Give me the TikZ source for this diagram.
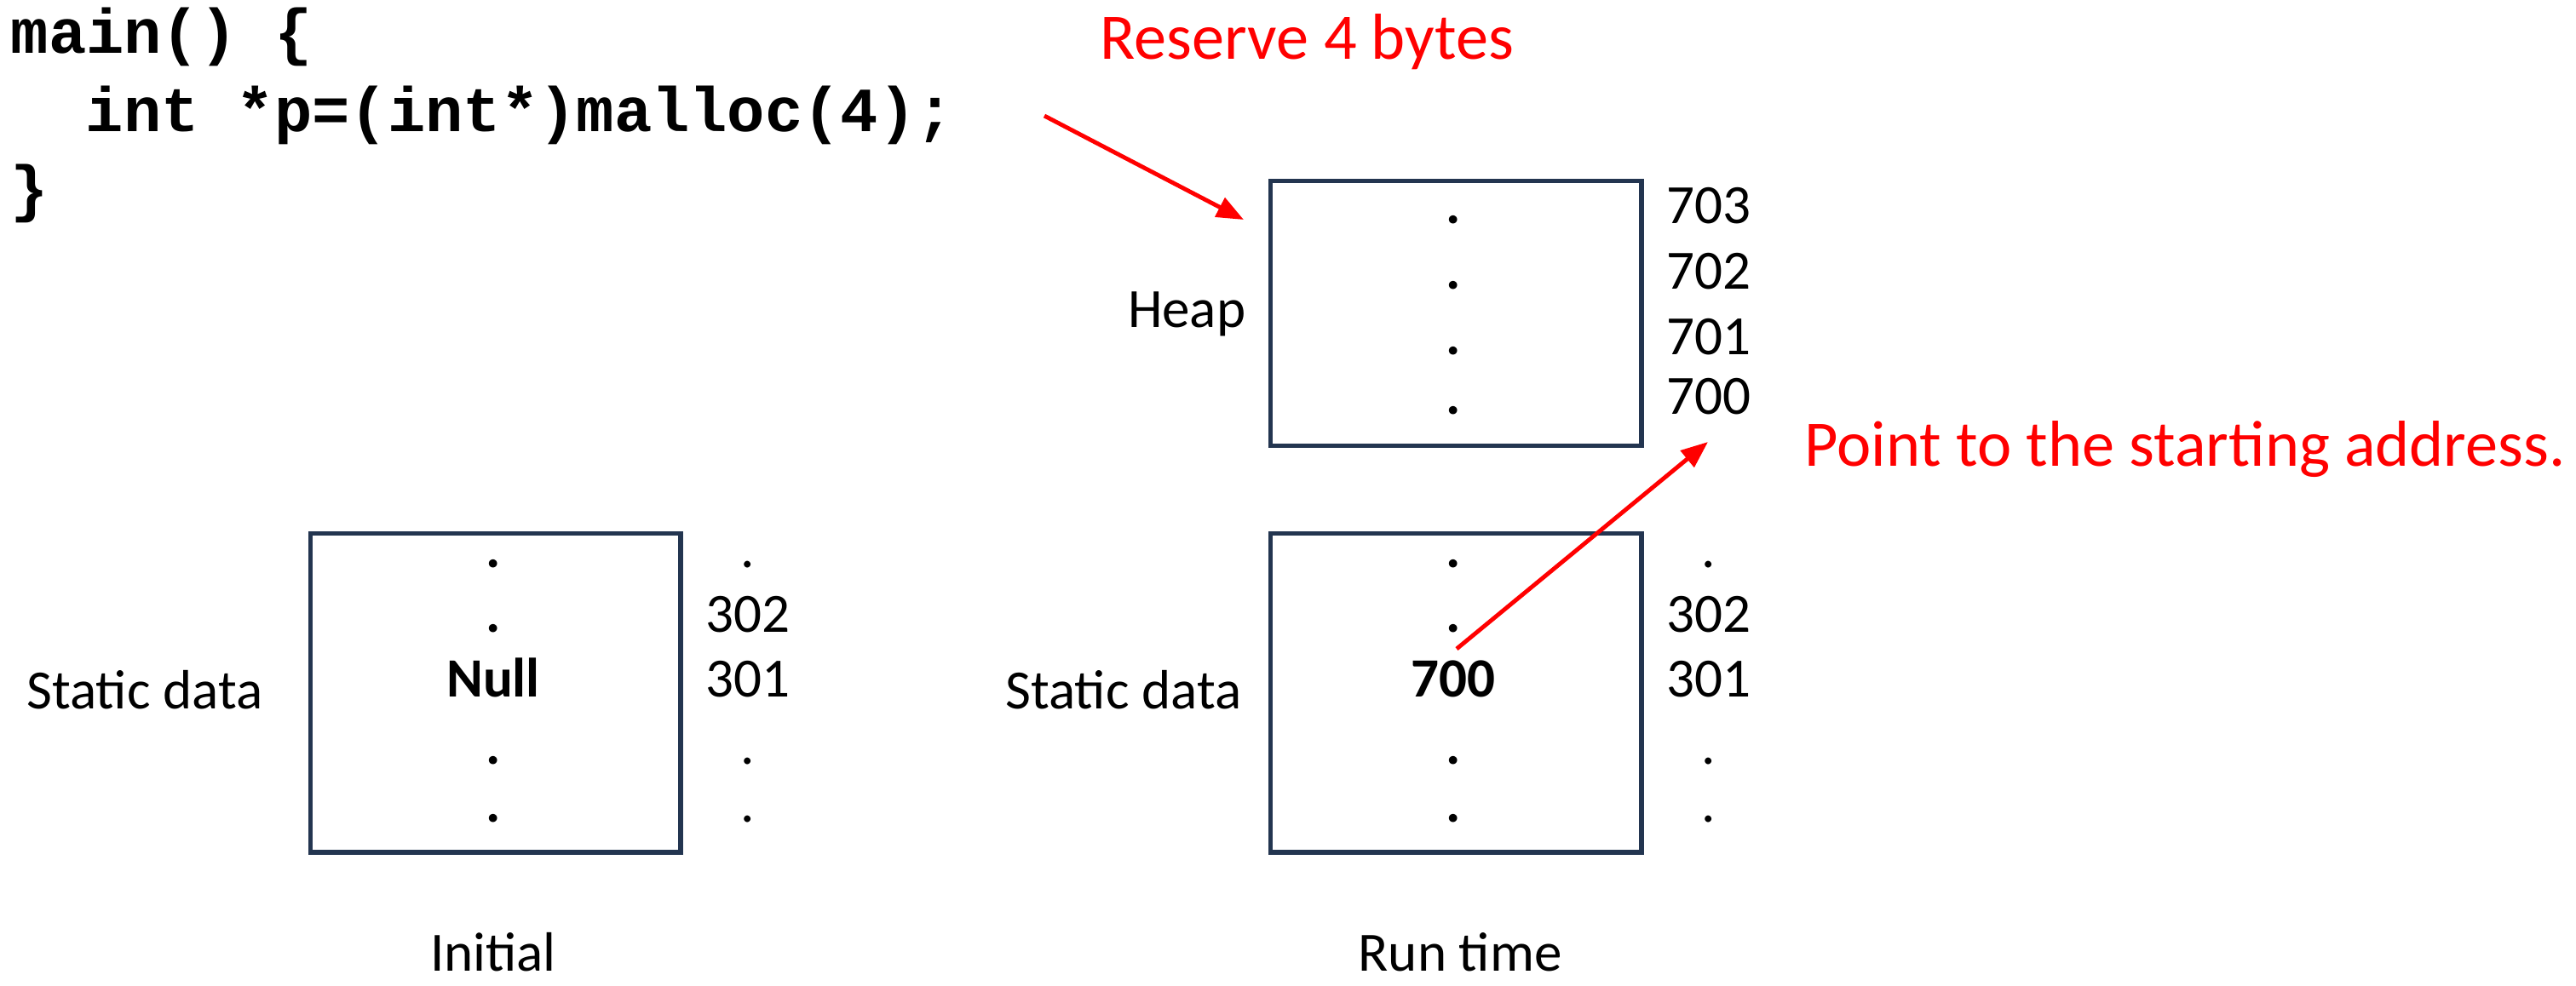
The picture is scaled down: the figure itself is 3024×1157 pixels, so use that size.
\documentclass[tikz,border=0pt]{standalone}
\usepackage{fontspec}
\setmainfont{Carlito}
\newfontfamily\codefont{Liberation Mono}
\usetikzlibrary{arrows.meta}
\definecolor{boxnavy}{RGB}{35,53,80}
\definecolor{notered}{RGB}{255,0,0}
\begin{document}
\begin{tikzpicture}[x=0.01cm,y=-0.01cm,
  code/.style={anchor=base west, inner sep=0, font=\codefont\bfseries\fontsize{21}{25}\selectfont},
  lbl/.style={inner sep=0, font=\fontsize{18.5}{22}\selectfont},
  cell/.style={inner sep=0, anchor=base, font=\bfseries\fontsize{18.5}{22}\selectfont},
  addr/.style={lbl, anchor=base},
  note/.style={inner sep=0, anchor=base west, text=notered, font=\fontsize{21.7}{26}\selectfont},
  membox/.style={draw=boxnavy, line width=1.5pt, anchor=north west, inner sep=0},
  pointer/.style={draw=notered, line width=1.4pt, -{Triangle[length=9pt,width=7pt]}}
]
\useasboundingbox (0,0) rectangle (3024,1157);

% source code
\node[code] (c1) at (12,62) {main() \{};
\node[code] (c2) at (100,154) {int *p=(int*)malloc(4);};
\node[code] (c3) at (12,246) {\}};

% memory boxes
\node[membox, minimum width=4.35cm, minimum height=3.11cm] (heap) at (1489,210) {};
\node[membox, minimum width=4.34cm, minimum height=3.74cm] (sinit) at (362,624) {};
\node[membox, minimum width=4.35cm, minimum height=3.74cm] (srun) at (1489,624) {};

% heap contents and addresses
\node[lbl, anchor=base east] (heaplbl) at (1463,384) {Heap};
\node[cell] (hd1) at (1706,262) {.};
\node[cell] (hd2) at (1706,339) {.};
\node[cell] (hd3) at (1706,416) {.};
\node[cell] (hd4) at (1706,486) {.};
\node[addr] (h703) at (2006,262) {703};
\node[addr] (h702) at (2006,339) {702};
\node[addr] (h701) at (2006,416) {701};
\node[addr] (h700) at (2006,486) {700};

% static data, initial state
\node[lbl, anchor=base east] (slbl1) at (309,832) {Static data};
\node[cell] (id1) at (579,666) {.};
\node[cell] (id2) at (579,742) {.};
\node[cell] (inull) at (579,818) {Null};
\node[cell] (id3) at (579,897) {.};
\node[cell] (id4) at (579,965) {.};
\node[addr] (ia1) at (878,666) {.};
\node[addr] (ia302) at (878,742) {302};
\node[addr] (ia301) at (878,818) {301};
\node[addr] (ia2) at (878,897) {.};
\node[addr] (ia3) at (878,965) {.};
\node[lbl, anchor=base] (initial) at (579,1140) {Initial};

% static data, run time
\node[lbl, anchor=base east] (slbl2) at (1458,832) {Static data};
\node[cell] (rd1) at (1706,666) {.};
\node[cell] (rd2) at (1706,742) {.};
\node[cell] (r700) at (1706,818) {700};
\node[cell] (rd3) at (1706,897) {.};
\node[cell] (rd4) at (1706,965) {.};
\node[addr] (ra1) at (2006,666) {.};
\node[addr] (ra302) at (2006,742) {302};
\node[addr] (ra301) at (2006,818) {301};
\node[addr] (ra2) at (2006,897) {.};
\node[addr] (ra3) at (2006,965) {.};
\node[lbl, anchor=base] (runtime) at (1714,1140) {Run time};

% annotations
\node[note] (reserve) at (1291,69) {Reserve 4 bytes};
\node[note] (pointto) at (2118,547) {Point to the starting address.};

\coordinate (mallocend) at (1226,136);
\coordinate (heaptop) at (1460,258);
\coordinate (ptrfrom) at (1710,762);
\coordinate (ptrto) at (2005,519);
\draw[pointer] (mallocend) -- (heaptop);
\draw[pointer] (ptrfrom) -- (ptrto);
\end{tikzpicture}
\end{document}
